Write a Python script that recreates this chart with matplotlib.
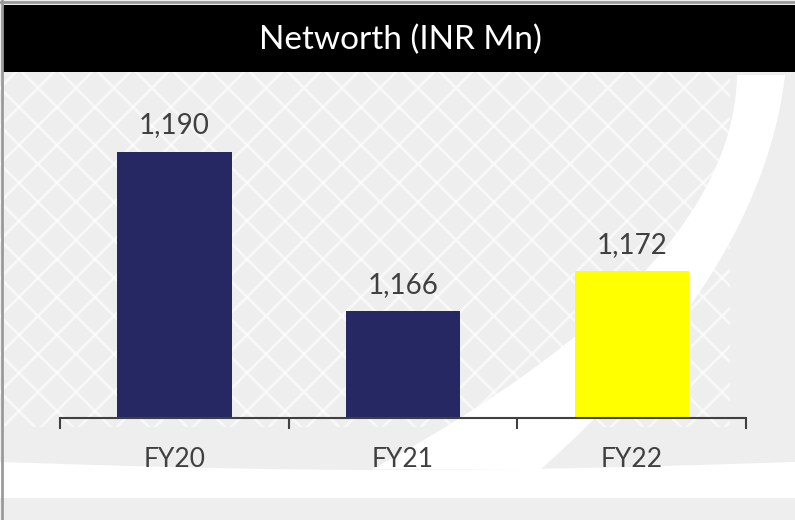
import numpy as np
import matplotlib
matplotlib.use("Agg")
import matplotlib.pyplot as plt
from matplotlib.patches import Rectangle, Polygon

categories = ["FY20", "FY21", "FY22"]
networth = [1190, 1166, 1172]
value_labels = ["1,190", "1,166", "1,172"]
bar_colors = ["#252862", "#252862", "#FFFF00"]
title = "Networth (INR Mn)"

plt.rcParams["font.family"] = ["Lato", "DejaVu Sans"]
TEXT = "#404040"

fig = plt.figure(figsize=(7.95, 5.2), dpi=100)
fig.patch.set_facecolor("#eeeeee")

# decorative backdrop drawn in pixel coordinates
bg = fig.add_axes([0, 0, 1, 1], zorder=0)
bg.set_xlim(0, 795)
bg.set_ylim(520, 0)
bg.axis("off")

clip = Rectangle((0, 72), 730, 355, transform=bg.transData)
for c in range(-900, 1700, 38):
    xs = np.array([-50, 900])
    for ys in (xs + c, -xs + c):
        ln, = bg.plot(xs, ys, color="white", lw=2.0, alpha=0.6, zorder=1)
        ln.set_clip_path(clip)

s = np.linspace(0, 1.15, 60)
y = 75 + 343 * s
left = 737 - 6 * s - 271 * s ** 2
right = 785 - 40 * s - 150 * s ** 2
pts = np.vstack([np.column_stack([left, y]), np.column_stack([right[::-1], y[::-1]])])
bg.add_patch(Polygon(pts, closed=True, facecolor="white", edgecolor="none", zorder=2))

bx = np.linspace(0, 795, 50)
top_band = 462 + 8 * np.sin(bx / 795 * np.pi)
band = np.vstack([np.column_stack([bx, top_band]), np.column_stack([bx[::-1], 498 + 0 * bx])])
bg.add_patch(Polygon(band, closed=True, facecolor="white", edgecolor="none", zorder=2))

bg.add_patch(Rectangle((2, 5), 795, 67, facecolor="black", edgecolor="none", zorder=3))
bg.text(400, 40, title, color="white", fontsize=24, ha="center", va="center", zorder=4)
bg.plot([2, 2], [0, 520], color="#9a9a9a", lw=2, zorder=4)
bg.plot([0, 795], [2, 2], color="#9a9a9a", lw=2, zorder=4)

# chart
ax = fig.add_axes([60 / 795, 1 - 418 / 520, 686 / 795, 333 / 520], zorder=2)
ax.patch.set_alpha(0)
x = np.arange(len(categories))
bars = ax.bar(x, networth, width=0.5, color=bar_colors, zorder=2)
ax.set_xlim(-0.5, 2.5)
ax.set_ylim(1150, 1200)

for sp in ("top", "right", "left"):
    ax.spines[sp].set_visible(False)
ax.spines["bottom"].set_color(TEXT)
ax.spines["bottom"].set_linewidth(1.5)
ax.set_yticks([])

ax.set_xticks([-0.5, 0.5, 1.5, 2.5])
ax.set_xticklabels([])
ax.tick_params(axis="x", which="major", direction="out", length=8, width=1.5, color=TEXT)
ax.set_xticks(x, minor=True)
ax.set_xticklabels(categories, minor=True)
ax.tick_params(axis="x", which="minor", length=0, pad=21, labelsize=19, labelcolor=TEXT)

for b, lab in zip(bars, value_labels):
    ax.annotate(lab, (b.get_x() + b.get_width() / 2, b.get_height()),
                xytext=(0, 13), textcoords="offset points",
                ha="center", va="baseline", fontsize=20, color=TEXT)

fig.savefig("out.png", dpi=100)
